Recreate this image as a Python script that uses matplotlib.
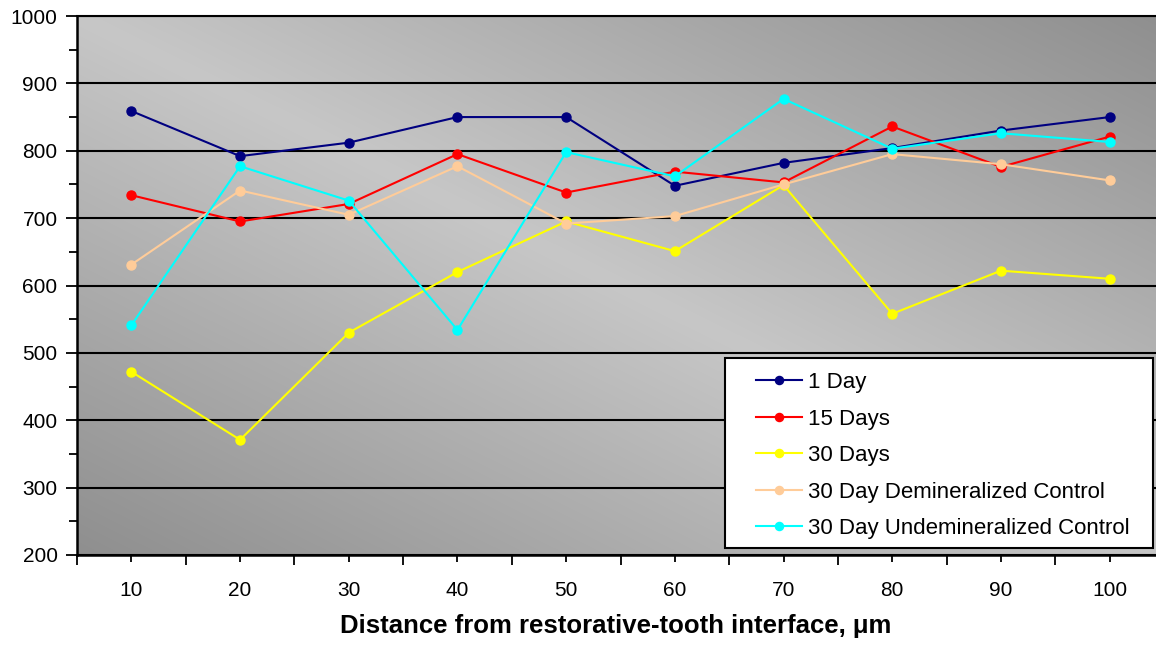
import numpy as np
import matplotlib.pyplot as plt
from matplotlib.patches import Rectangle
from matplotlib.ticker import MultipleLocator, FixedLocator

# datos
distancia = [10, 20, 30, 40, 50, 60, 70, 80, 90, 100]
dia1 = [859, 792, 812, 850, 850, 748, 782, 804, 830, 850]
dias15 = [734, 695, 721, 795, 738, 769, 753, 836, 776, 821]
dias30 = [472, 371, 530, 620, 695, 651, 749, 558, 622, 610]
control_desmin = [631, 741, 705, 777, 692, 703, 750, 795, 780, 756]
control_sin = [541, 777, 726, 534, 798, 762, 877, 803, 826, 813]

nombres = ["1 Day", "15 Days", "30 Days",
           "30 Day Demineralized Control", "30 Day Undemineralized Control"]
colores = ["#000080", "#ff0000", "#ffff00", "#ffcc99", "#00ffff"]
series = [dia1, dias15, dias30, control_desmin, control_sin]

plt.rcParams['font.family'] = ['Liberation Sans', 'DejaVu Sans']

W, H = 1156, 647
fig = plt.figure(figsize=(W/100, H/100), dpi=100)
ax = fig.add_axes([77/W, 1-555/H, 1087/W, 539/H])

# fondo degradado gris
u = np.linspace(0, 1, 300)
v = np.linspace(1, 0, 200)
U, V = np.meshgrid(u, v)
d = np.abs(U + V - 1)
claro, oscuro = 0.78, 0.56
g = claro - (claro-oscuro)*d
fondo = np.dstack([g, g, g])
ax.imshow(fondo, extent=[0, 1, 0, 1], transform=ax.transAxes,
          aspect='auto', zorder=0, interpolation='bilinear')

x = np.arange(1, len(distancia)+1)
for s, c, n in zip(series, colores, nombres):
    ax.plot(x, s, color=c, lw=1.5, marker='o', ms=6.5, label=n, zorder=3)

ax.set_xlim(0.5, 10.5)
ax.set_ylim(200, 1000)
ax.yaxis.set_major_locator(MultipleLocator(100))
ax.yaxis.set_minor_locator(MultipleLocator(50))
ax.grid(axis='y', color='black', lw=1.5, zorder=1)
ax.set_axisbelow(False)
for l in ax.get_ygridlines():
    l.set_zorder(1)

ax.set_xticks(x)
ax.set_xticklabels([str(t) for t in distancia])
ax.xaxis.set_minor_locator(FixedLocator(np.arange(0.5, 11, 1)))
ax.tick_params(axis='x', which='major', length=5, width=1.3, pad=14, labelsize=15)
ax.tick_params(axis='x', which='minor', length=7, width=1.3)
ax.tick_params(axis='y', which='major', length=8, width=1.3, pad=6, labelsize=15)
ax.tick_params(axis='y', which='minor', length=6, width=1.3)

for lado in ['left', 'bottom']:
    ax.spines[lado].set_linewidth(1.8)
ax.spines['top'].set_linewidth(1.5)
ax.spines['right'].set_visible(False)

fig.text(616/W, 1-626/H, "Distance from restorative-tooth interface, \u03bcm",
         ha='center', va='center', fontsize=18.5, fontweight='bold')

# caja de la leyenda
caja = Rectangle((725/W, 1-548/H), 428/W, 190/H, transform=fig.transFigure,
                 facecolor='white', edgecolor='black', lw=1.5, zorder=10, clip_on=False)
ax.add_patch(caja)
leg = ax.legend(loc='upper left', bbox_to_anchor=(756/W, 1-372/H),
                bbox_transform=fig.transFigure, frameon=False, borderpad=0,
                borderaxespad=0, fontsize=16, handlelength=2.07, handletextpad=0.27,
                labelspacing=0.7, markerscale=0.9)
leg.set_zorder(11)

plt.savefig("out.png", dpi=100)
